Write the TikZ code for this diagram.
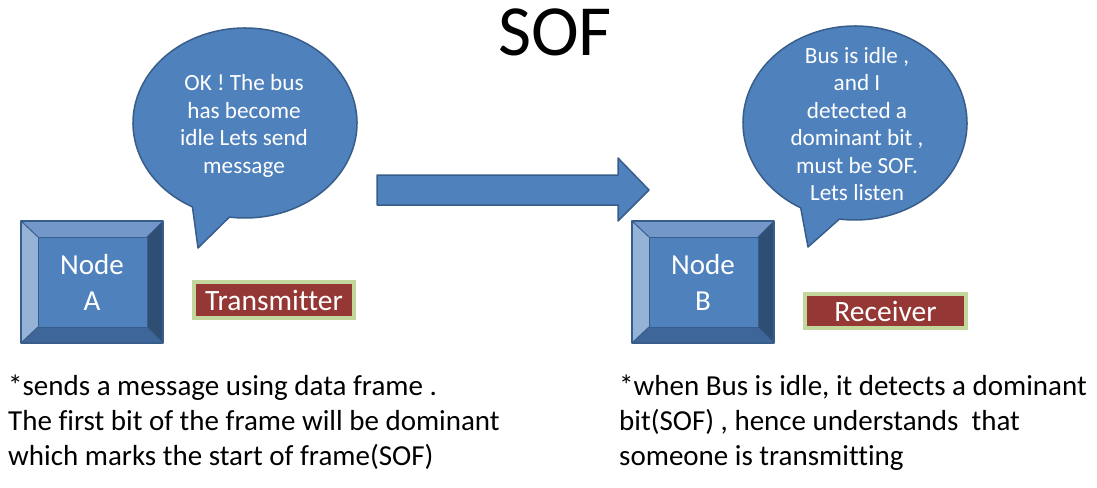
\documentclass[tikz,border=0pt]{standalone}
\usepackage{fontspec}
\setmainfont{Carlito}[Ligatures=NoCommon]
\usetikzlibrary{calc}
\begin{document}
\begin{tikzpicture}[x=1pt,y=-1pt]

\definecolor{boxblue}{HTML}{4F81BD}
\definecolor{boxline}{HTML}{385D8A}
\definecolor{bevtop}{HTML}{7397C9}
\definecolor{bevleft}{HTML}{95B3D7}
\definecolor{bevright}{HTML}{2F4E74}
\definecolor{bevbottom}{HTML}{3E6698}
\definecolor{tagred}{HTML}{953735}
\definecolor{taggreen}{HTML}{C3D69B}

\useasboundingbox (0,0) rectangle (1097,487);

%%% Styles

\tikzstyle{bubble}=[fill=boxblue, draw=boxline, line width=1.5pt, line join=round]
\tikzstyle{bubbletext}=[align=center, text=white, font=\fontsize{23.2}{27.4}\selectfont]
\tikzstyle{nodetext}=[align=center, text=white, font=\fontsize{29}{36}\selectfont]
\tikzstyle{tag}=[fill=tagred, draw=taggreen, line width=4pt, text=white,
                 font=\fontsize{29.5}{30}\selectfont, inner sep=0pt]
\tikzstyle{note}=[align=left, anchor=north west, inner sep=0pt,
                  font=\fontsize{29}{35}\selectfont]

% Title

\node (title) at (555,56) [anchor=base, font=\fontsize{72}{72}\selectfont] {SOF};

% Speech bubble of node A

\coordinate (cA) at (245,123);
\coordinate (tipA) at (198,248);
\draw[bubble] ($(cA)+(118:112 and 95)$)
   arc[start angle=118, end angle=458, x radius=112, y radius=95]
   -- (tipA) -- cycle;
\node (msgA) [bubbletext] at (244,126) {OK ! The bus\\has become\\idle Lets send\\message};

% Speech bubble of node B

\coordinate (cB) at (855,123);
\coordinate (tipB) at (808,247);
\draw[bubble] ($(cB)+(119:112 and 97)$)
   arc[start angle=119, end angle=458, x radius=112, y radius=97]
   -- (tipB) -- cycle;
\node (msgB) [bubbletext] at (857,124) {Bus is idle ,\\and I\\detected a\\dominant bit ,\\must be SOF.\\Lets listen};

% Bus arrow

\draw[bubble] (377,175) -- (618,175) -- (618,158) -- (649,190)
   -- (618,221) -- (618,205) -- (377,205) -- cycle;

%%% Bevelled nodes

\foreach \bx/\by/\lab in {21/221/A, 632/221/B}
{
  \fill[bevtop] (\bx,\by) -- (\bx+142,\by) -- (\bx+126,\by+16) -- (\bx+17,\by+16) -- cycle;
  \fill[bevleft] (\bx,\by) -- (\bx+17,\by+16) -- (\bx+17,\by+106) -- (\bx,\by+122) -- cycle;
  \fill[bevright] (\bx+142,\by) -- (\bx+142,\by+122) -- (\bx+126,\by+106) -- (\bx+126,\by+16) -- cycle;
  \fill[bevbottom] (\bx,\by+122) -- (\bx+17,\by+106) -- (\bx+126,\by+106) -- (\bx+142,\by+122) -- cycle;
  \draw[boxline, line width=1pt, fill=boxblue] (\bx+17,\by+16) rectangle (\bx+126,\by+106);
  \draw[boxline, line width=1pt] (\bx,\by) -- (\bx+17,\by+16)
        (\bx+142,\by) -- (\bx+126,\by+16)
        (\bx,\by+122) -- (\bx+17,\by+106)
        (\bx+142,\by+122) -- (\bx+126,\by+106);
  \draw[boxline, line width=1.5pt, line join=round] (\bx,\by) rectangle (\bx+142,\by+122);
}

\node (nodeA) [nodetext] at (92,282) {Node\\A};
\node (nodeB) [nodetext] at (703,282) {Node\\B};

% Role tags

\node (tx) [tag, minimum width=160pt, minimum height=36pt] at (274,300) {Transmitter};
\node (rx) [tag, minimum width=161pt, minimum height=34pt] at (885.5,311) {Receiver};

% Notes

\node (noteA) [note] at (8,375) {*sends a message using data frame .\\The first bit of the frame will be dominant\\which marks the start of frame(SOF)};
\node (noteB) [note] at (619,375) {*when Bus is idle, it detects a dominant\\bit(SOF) , hence understands\ \ that\\someone is transmitting};

\end{tikzpicture}
\end{document}
